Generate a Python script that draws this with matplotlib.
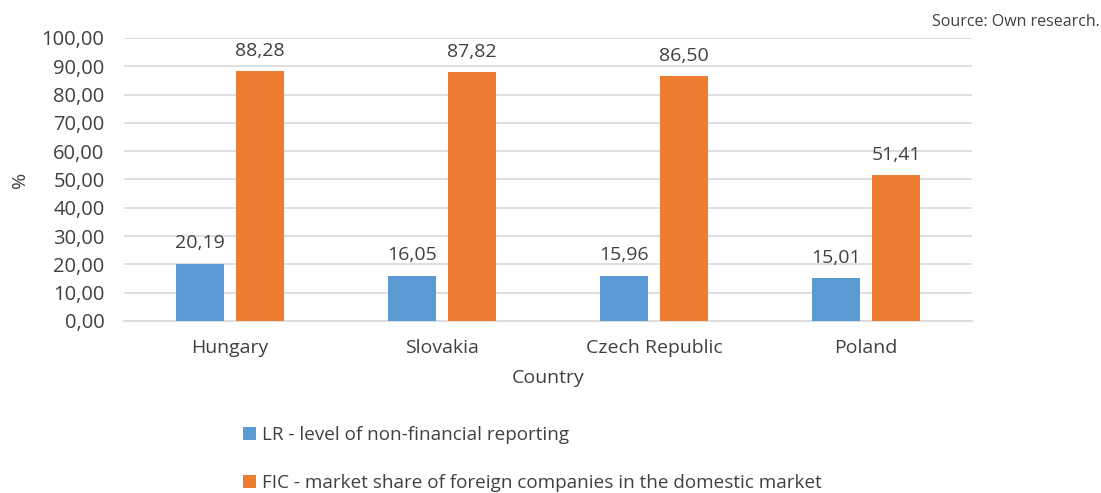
import matplotlib.pyplot as plt
import numpy as np

plt.rcParams['font.family'] = ['Open Sans', 'DejaVu Sans']

countries = ["Hungary", "Slovakia", "Czech Republic", "Poland"]
lr_values = [20.19, 16.05, 15.96, 15.01]
fic_values = [88.28, 87.82, 86.50, 51.41]
series_names = ["LR - level of non-financial reporting",
                "FIC - market share of foreign companies in the domestic market"]
y_ticks = [0, 10, 20, 30, 40, 50, 60, 70, 80, 90, 100]

TXT = "#404040"


def fmt(v):
    """Десятичная запятая"""
    return f"{v:.2f}".replace(".", ",")


fig = plt.figure(figsize=(11.01, 4.93), dpi=100)
ax = fig.add_axes([0.1126, 0.349, 0.7702, 0.574])

x = np.arange(len(countries))
w = 0.226
off = 0.142
b1 = ax.bar(x - off, lr_values, w, color="#5b9bd5", label=series_names[0], zorder=3)
b2 = ax.bar(x + off, fic_values, w, color="#ed7d31", label=series_names[1], zorder=3)

for bars, vals in ((b1, lr_values), (b2, fic_values)):
    for b, v in zip(bars, vals):
        ax.text(b.get_x() + b.get_width() / 2, v + 4, fmt(v), ha="center", va="bottom",
                fontsize=14, color=TXT)

ax.set_xlim(-0.5, len(countries) - 0.5)
ax.set_ylim(0, 100)
ax.set_yticks(y_ticks)
ax.set_yticklabels([fmt(t) for t in y_ticks], fontsize=14.5, color=TXT)
ax.set_xticks(x)
ax.set_xticklabels(countries, fontsize=14, color=TXT)
ax.tick_params(length=0)
ax.tick_params(axis="y", pad=14)
ax.tick_params(axis="x", pad=13)
ax.grid(axis="y", color="#d9d9d9", linewidth=1.2, zorder=0)
for s in ("top", "right", "left"):
    ax.spines[s].set_visible(False)
ax.spines["bottom"].set_color("#d9d9d9")
ax.spines["bottom"].set_linewidth(1.2)

ax.set_xlabel("Country", fontsize=14, color=TXT, labelpad=9)
ax.set_ylabel("%", fontsize=14, color=TXT, labelpad=9)

fig.legend(handles=[b1, b2], loc="upper left", bbox_to_anchor=(0.205, 0.17),
           frameon=False, fontsize=13.6, handlelength=0.7, handleheight=0.7,
           handletextpad=0.3, labelspacing=1.6, labelcolor=TXT,
           bbox_transform=fig.transFigure)
fig.text(0.999, 0.955, "Source: Own research.", ha="right", va="center", fontsize=11.5,
         color=TXT)

plt.savefig("out.png", dpi=100)
